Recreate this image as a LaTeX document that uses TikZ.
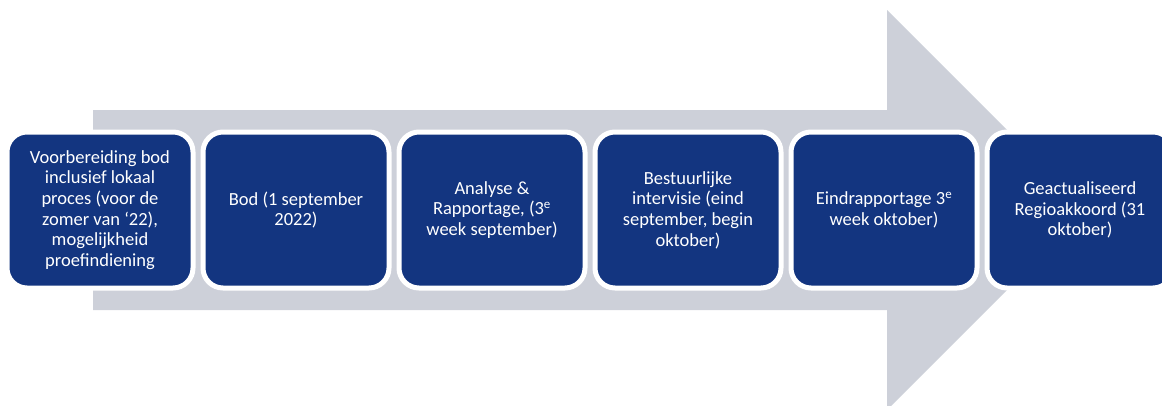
\documentclass[tikz,border=0pt]{standalone}
\usepackage{fontspec}
\setmainfont{Carlito}
\definecolor{boxblue}{RGB}{19,53,128}
\definecolor{arrowgray}{RGB}{205,208,217}
\tikzset{
  stage/.style={draw=white, line width=5pt, fill=boxblue, rounded corners=20pt,
    minimum width=186pt, minimum height=156pt, text=white, align=center,
    font=\fontsize{18.5}{20.6}\selectfont, inner sep=0pt}
}
\begin{document}
\begin{tikzpicture}[x=1pt,y=-1pt]
\useasboundingbox (0,0) rectangle (1162,405);
\clip (0,0) rectangle (1162,405);
\fill[arrowgray] (93,110) -- (887,110) -- (887,10) -- (1087,210) -- (887,410) -- (887,310) -- (93,310) -- cycle;
\node[stage] (s1) at (100,210) {Voorbereiding bod\\inclusief lokaal\\proces (voor de\\zomer van ‘22),\\mogelijkheid\\proefindiening};
\node[stage] (s2) at (296,210) {Bod (1 september\\2022)};
\node[stage] (s3) at (492,210) {Analyse \&\\Rapportage, (3\textsuperscript{e}\\week september)};
\node[stage] (s4) at (688,210) {Bestuurlijke\\intervisie (eind\\september, begin\\oktober)};
\node[stage] (s5) at (884,210) {Eindrapportage 3\textsuperscript{e}\\week oktober)};
\node[stage] (s6) at (1080,210) {Geactualiseerd\\Regioakkoord (31\\oktober)};
\end{tikzpicture}
\end{document}
